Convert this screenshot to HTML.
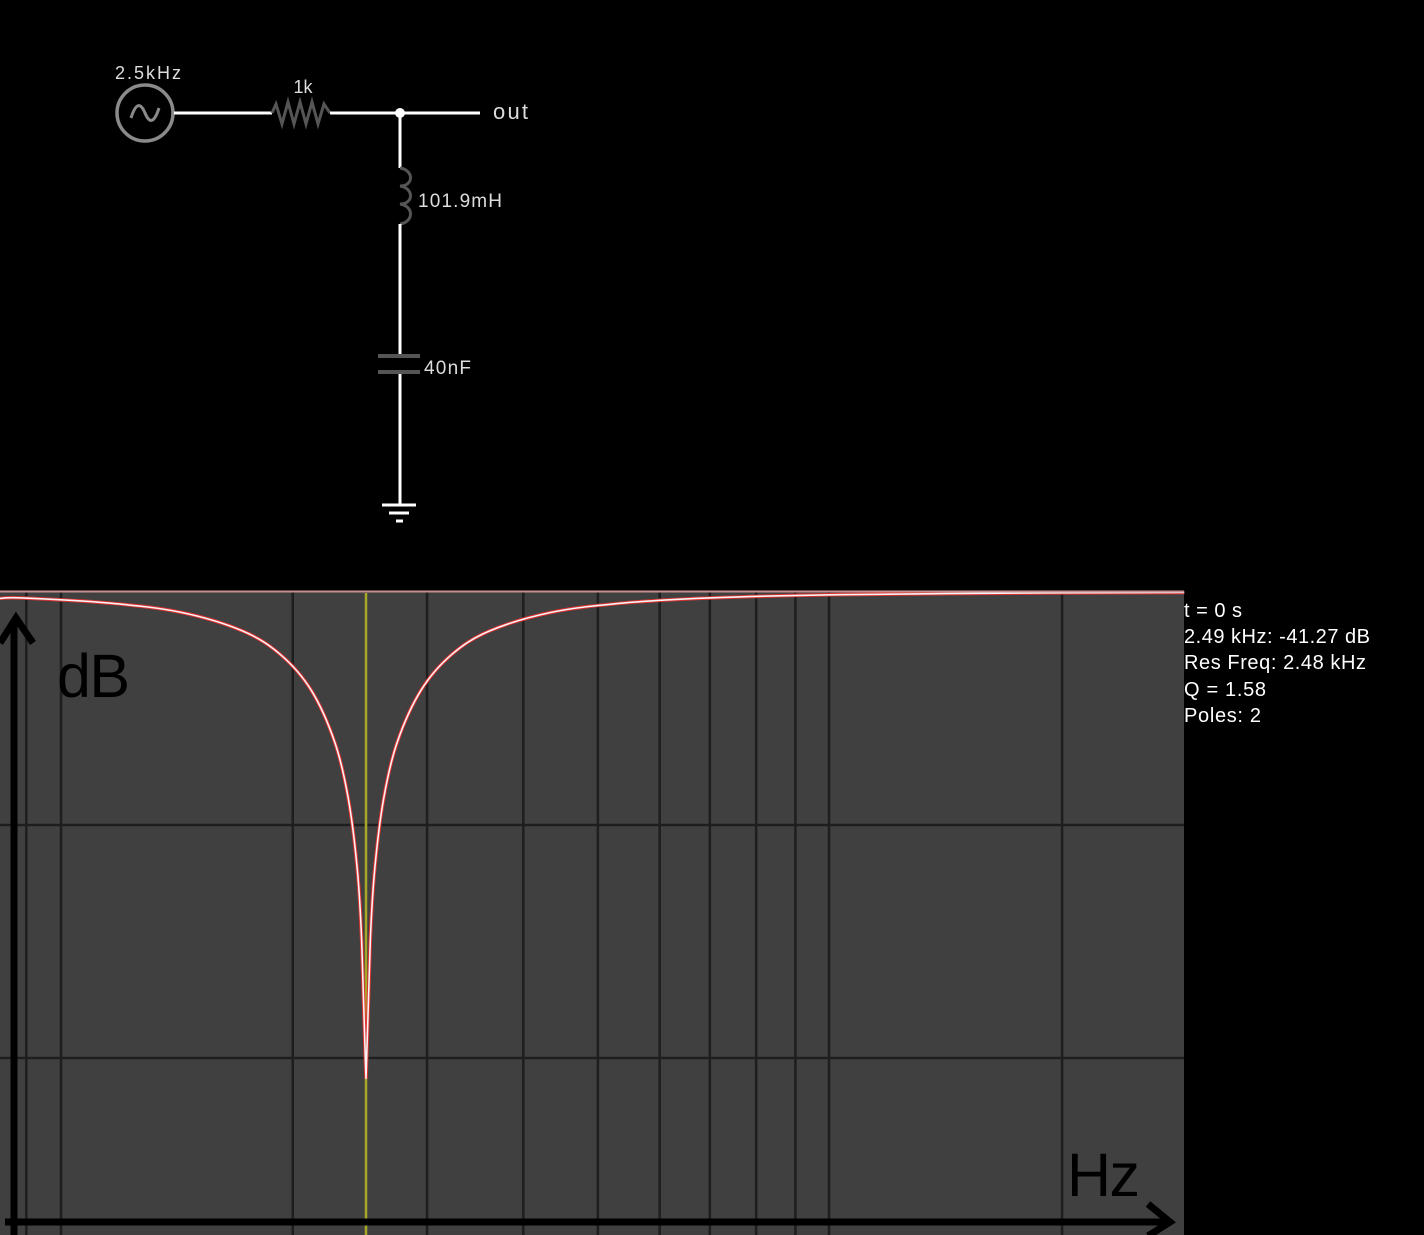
<!DOCTYPE html>
<html><head><meta charset="utf-8"><style>
html,body{margin:0;padding:0;background:#000;}
svg{display:block;}
text{font-family:"Liberation Sans",Arial,sans-serif;}
</style></head><body>
<svg id="root" width="1424" height="1235" viewBox="0 0 1424 1235" xmlns="http://www.w3.org/2000/svg">
<rect x="0" y="0" width="1424" height="1235" fill="#000"/>
<g>
  <circle cx="145" cy="113" r="28" fill="none" stroke="#8a8a8a" stroke-width="3.5"/>
  <path d="M131 118 Q138 96 145 113 Q152 130 159 108" fill="none" stroke="#8a8a8a" stroke-width="3"/>
  <line x1="174" y1="113" x2="272" y2="113" stroke="#fff" stroke-width="3"/>
  <polyline points="272,113 276,104 282,124 288,102 294,124 300,102 306,124 312,102 318,124 324,104 330,113" fill="none" stroke="#555" stroke-width="3"/>
  <line x1="330" y1="113" x2="480" y2="113" stroke="#fff" stroke-width="3"/>
  <circle cx="400" cy="113" r="5" fill="#fff"/>
  <line x1="400" y1="113" x2="400" y2="168" stroke="#fff" stroke-width="3"/>
  <path d="M400 168 C414 170 414 186 400 186 C414 188 414 204 400 204 C414 206 414 222 400 224" fill="none" stroke="#555" stroke-width="3"/>
  <line x1="400" y1="224" x2="400" y2="355" stroke="#fff" stroke-width="3"/>
  <line x1="378" y1="356" x2="420" y2="356" stroke="#555" stroke-width="4"/>
  <line x1="378" y1="372" x2="420" y2="372" stroke="#555" stroke-width="4"/>
  <line x1="400" y1="374" x2="400" y2="505" stroke="#fff" stroke-width="3"/>
  <line x1="382" y1="505" x2="416" y2="505" stroke="#fff" stroke-width="3"/>
  <line x1="389" y1="513" x2="409" y2="513" stroke="#fff" stroke-width="3"/>
  <line x1="396" y1="521" x2="403" y2="521" stroke="#fff" stroke-width="3"/>
  <text x="115" y="79" fill="#ddd" font-size="18" textLength="66">2.5kHz</text>
  <text x="303" y="93" fill="#ddd" font-size="18" text-anchor="middle">1k</text>
  <text x="493" y="119" fill="#ddd" font-size="22" textLength="35">out</text>
  <text x="418" y="207" fill="#ddd" font-size="19" textLength="84">101.9mH</text>
  <text x="424" y="374" fill="#ddd" font-size="19" textLength="47">40nF</text>
</g>
<g id="plot">
  <rect x="0" y="591" width="1184" height="644" fill="#404040"/>
  <g id="grid"></g>
  <g id="curve"></g>
  <line x1="0" y1="591.5" x2="1184" y2="591.5" stroke="#c89090" stroke-width="2"/>
</g>
<g fill="#fff" font-size="20">
  <text x="1184" y="617" textLength="58">t = 0 s</text>
  <text x="1184" y="643" textLength="186">2.49 kHz: -41.27 dB</text>
  <text x="1184" y="669" textLength="182">Res Freq: 2.48 kHz</text>
  <text x="1184" y="696" textLength="82">Q = 1.58</text>
  <text x="1184" y="722" textLength="77">Poles: 2</text>
</g>
<g>
  <line x1="14" y1="1235" x2="14" y2="620" stroke="#000" stroke-width="7"/>
  <polyline points="0,643 16,618 33,643" fill="none" stroke="#000" stroke-width="7"/>
  <line x1="5" y1="1222" x2="1168" y2="1222" stroke="#000" stroke-width="7"/>
  <polyline points="1148,1204 1170,1222 1148,1236" fill="none" stroke="#000" stroke-width="7"/>
  <text x="57" y="697" fill="#000" font-size="61" font-family="DejaVu Sans, sans-serif" textLength="73">dB</text>
  <text x="1067" y="1196" fill="#000" font-size="61" font-family="DejaVu Sans, sans-serif" textLength="73">Hz</text>
</g>
</svg>
<script>
const gridFreqs = [1130, 1225, 2100, 2870, 3590, 4270, 4930, 5540, 6170, 6760, 7310, 12570];
const gridDb = [-20, -40];
const cursorFreq = 2490;
const freqs = [1063, 1120, 1370, 1620, 1868, 2042, 2192, 2316, 2390, 2440, 2465, 2490, 2515, 2541, 2594, 2677, 2830, 3037, 3320, 3830, 4527, 5533, 7470, 12450, 16700];
const dbValues = [-0.55, -0.51, -0.95, -1.75, -3.34, -5.39, -8.43, -12.92, -17.77, -23.8, -29.9, -41.8, -29.9, -23.8, -17.77, -12.92, -8.43, -5.39, -3.34, -1.75, -0.95, -0.51, -0.23, -0.07, -0.04];

const NS = 'http://www.w3.org/2000/svg';
const X0 = 366, F0 = 2490, PX_PER_DEC = 990;
function xScale(f){ return X0 + PX_PER_DEC * Math.log10(f / F0); }
const Y0 = 592, PX_PER_DB = 11.65;
function yScale(db){ return Y0 - db * PX_PER_DB; }

const grid = document.getElementById('grid');
gridFreqs.forEach(f => {
  const l = document.createElementNS(NS, 'line');
  const x = xScale(f);
  l.setAttribute('x1', x); l.setAttribute('x2', x);
  l.setAttribute('y1', 591); l.setAttribute('y2', 1235);
  l.setAttribute('stroke', '#1e1e1e'); l.setAttribute('stroke-width', 2.5);
  
  
  grid.appendChild(l);
});
gridDb.forEach(d => {
  const l = document.createElementNS(NS, 'line');
  const y = yScale(d);
  l.setAttribute('x1', 0); l.setAttribute('x2', 1184);
  l.setAttribute('y1', y); l.setAttribute('y2', y);
  l.setAttribute('stroke', '#1e1e1e'); l.setAttribute('stroke-width', 2.5);
  
  
  grid.appendChild(l);
});
const cur = document.createElementNS(NS, 'line');
const cx = xScale(cursorFreq);
cur.setAttribute('x1', cx); cur.setAttribute('x2', cx);
cur.setAttribute('y1', 593); cur.setAttribute('y2', 1235);
cur.setAttribute('stroke', '#a8a828'); cur.setAttribute('stroke-width', 2.5);


grid.appendChild(cur);

const pts = freqs.map((f, i) => [xScale(f), yScale(dbValues[i])]);
let d = 'M' + pts[0][0] + ' ' + pts[0][1];
for (let i = 0; i < pts.length - 1; i++) {
  const p0 = pts[Math.max(0, i - 1)], p1 = pts[i], p2 = pts[i + 1], p3 = pts[Math.min(pts.length - 1, i + 2)];
  const isTip = (i + 1 === 11) || (i === 11);
  const k = isTip ? 0 : 1 / 6;
  const c1 = [p1[0] + (p2[0] - p0[0]) * k, p1[1] + (p2[1] - p0[1]) * k];
  const c2 = [p2[0] - (p3[0] - p1[0]) * k, p2[1] - (p3[1] - p1[1]) * k];
  d += ' C' + c1[0] + ' ' + c1[1] + ' ' + c2[0] + ' ' + c2[1] + ' ' + p2[0] + ' ' + p2[1];
}
const curve = document.getElementById('curve');
const red = document.createElementNS(NS, 'path');
red.setAttribute('d', d); red.setAttribute('fill', 'none');
red.setAttribute('stroke', '#e03030'); red.setAttribute('stroke-width', 3.5);


curve.appendChild(red);
const white = document.createElementNS(NS, 'path');
white.setAttribute('d', d); white.setAttribute('fill', 'none');
white.setAttribute('stroke', '#f4f4f4'); white.setAttribute('stroke-width', 1.6);


curve.appendChild(white);
</script>
</body></html>
